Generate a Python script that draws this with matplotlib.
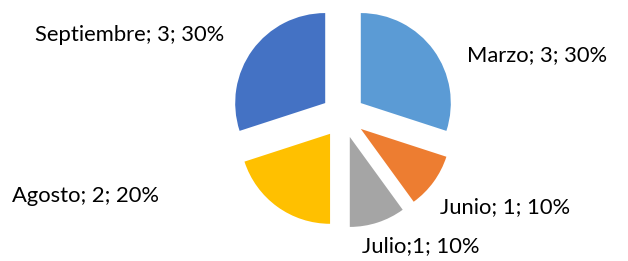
import matplotlib
matplotlib.use('Agg')
import matplotlib.pyplot as plt

meses = ['Marzo', 'Junio', 'Julio', 'Agosto', 'Septiembre']
valores = [3, 1, 1, 2, 3]
etiquetas = ['Marzo; 3; 30%', 'Junio; 1; 10%', 'Julio;1; 10%', 'Agosto; 2; 20%', 'Septiembre; 3; 30%']
colores = ['#5B9BD5', '#ED7D31', '#A5A5A5', '#FFC000', '#4472C4']

# posiciones de las etiquetas (pixeles, origen abajo-izquierda)
pos_etiquetas = [(467, 206), (440, 54), (362, 15), (12, 65), (35, 226)]

fig = plt.figure(figsize=(6.28, 2.61), dpi=100)
ax = fig.add_axes([0, 0, 1, 1])

ax.pie(valores, colors=colores, startangle=90, counterclock=False,
       center=(343, 145), radius=90, explode=[22] * len(valores),
       wedgeprops={'linewidth': 0}, frame=True)
ax.set_xlim(0, 628)
ax.set_ylim(0, 261)
ax.set_aspect('equal')
ax.axis('off')

for txt, (x, y) in zip(etiquetas, pos_etiquetas):
    ax.text(x, y, txt, fontsize=15.8, family='Lato', color='#000000',
            ha='left', va='center')

plt.savefig('out.png', dpi=100)
